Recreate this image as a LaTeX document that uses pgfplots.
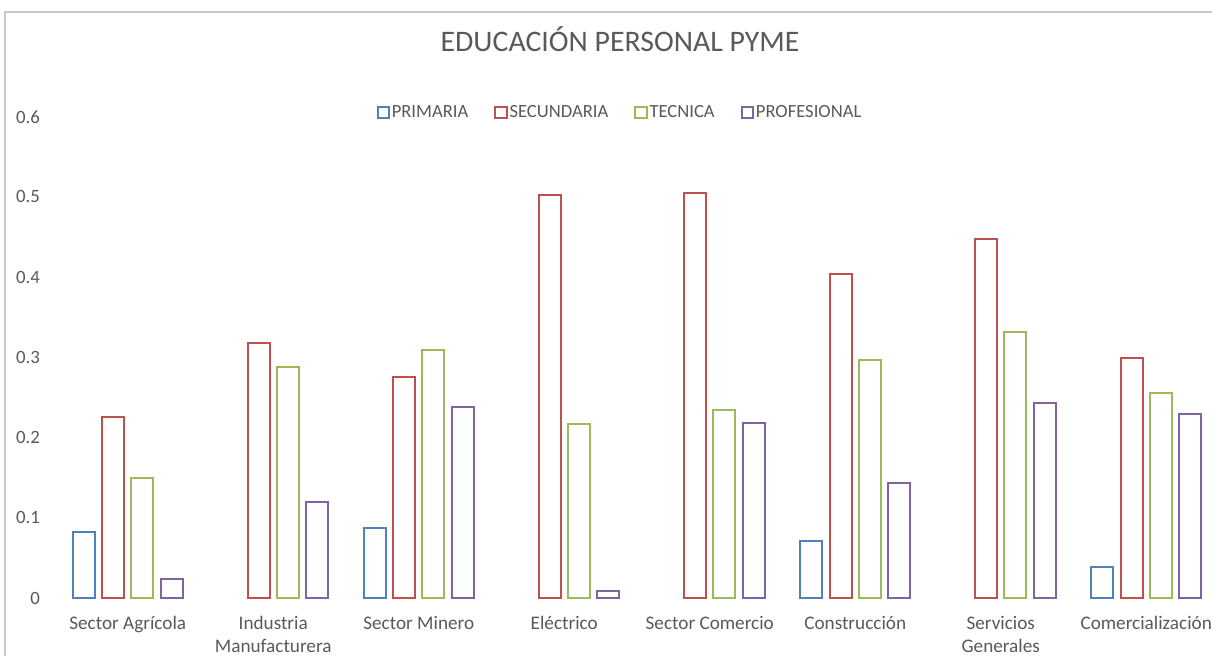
\documentclass[border=0pt]{standalone}
\usepackage{pgfplots}
\pgfplotsset{compat=1.18}
\usepackage{fontspec}
\setmainfont{Carlito}
\definecolor{cP}{HTML}{4F81BD}
\definecolor{cS}{HTML}{C0504D}
\definecolor{cT}{HTML}{9BBB59}
\definecolor{cR}{HTML}{8064A2}
\definecolor{txt}{HTML}{595959}
\begin{document}
\begin{tikzpicture}
\begin{axis}[
  x=72.75pt, y=401pt,
  xmin=-0.5, xmax=7.5, ymin=0, ymax=0.6,
  ybar=3.65pt, bar width=11pt,
  axis line style={draw=none}, major tick length=0pt,
  xtick={0,...,7},
  xticklabels={Sector Agrícola,{Industria\\Manufacturera},Sector Minero,Eléctrico,Sector Comercio,Construcción,{Servicios\\Generales},Comercialización},
  xticklabel style={align=center, text=txt, font=\fontsize{9.6}{11.5}\selectfont, yshift=-5.5pt},
  ytick={0,0.1,0.2,0.3,0.4,0.5,0.6},
  yticklabel style={text=txt, font=\fontsize{9.4}{11}\selectfont, xshift=-4pt},
  /pgf/number format/assume math mode=true,
  /pgf/number format/fixed, /pgf/number format/precision=1,
  clip=false,
  legend columns=4,
  legend style={at={(axis cs:3.383,0.605)}, anchor=center, draw=none, fill=none,
    text=txt, font=\fontsize{9.3}{11}\selectfont,
    /tikz/every even column/.append style={column sep=12pt},
    nodes={inner sep=1pt}},
  legend image code/.code={\draw[#1,fill=white,line width=1pt] (0pt,-2.8pt) rectangle (5.6pt,2.8pt);},
]
\addplot[draw=cP, fill=white, line width=1pt] coordinates {(0,0.082) (2,0.087) (5,0.071) (7,0.039)};
\addplot[draw=cS, fill=white, line width=1pt] coordinates {(0,0.226) (1,0.318) (2,0.276) (3,0.502) (4,0.505) (5,0.404) (6,0.448) (7,0.299)};
\addplot[draw=cT, fill=white, line width=1pt] coordinates {(0,0.150) (1,0.288) (2,0.309) (3,0.217) (4,0.234) (5,0.297) (6,0.332) (7,0.256)};
\addplot[draw=cR, fill=white, line width=1pt] coordinates {(0,0.024) (1,0.120) (2,0.238) (3,0.009) (4,0.218) (5,0.143) (6,0.243) (7,0.229)};
\legend{PRIMARIA,SECUNDARIA,TECNICA,PROFESIONAL}
\node[font=\fontsize{14.9}{17}\selectfont, text=txt] at (axis cs:3.383,0.697) {EDUCACIÓN PERSONAL PYME};
\draw[black!22, line width=0.8pt] (axis cs:-0.8436,-0.2) -- (axis cs:-0.8436,0.7307) -- (axis cs:7.8,0.7307);
\coordinate (bbA) at (axis cs:-0.878,-0.0723);
\coordinate (bbB) at (axis cs:7.452,0.7456);
\end{axis}
\pgfresetboundingbox
\useasboundingbox (bbA) rectangle (bbB);
\end{tikzpicture}
\end{document}
